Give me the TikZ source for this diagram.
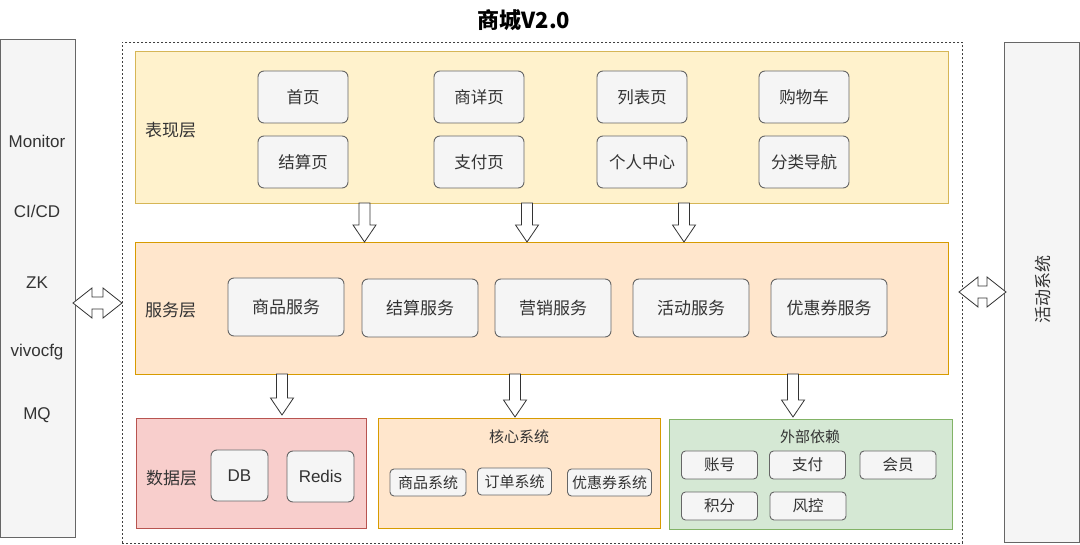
\documentclass[tikz,border=0pt]{standalone}
\usepackage{fontspec}
\setmainfont{Liberation Sans}
\newfontfamily\cjk{Noto Sans CJK SC}
\definecolor{gfill}{HTML}{F5F5F5}
\definecolor{gline}{HTML}{666666}
\definecolor{yfill}{HTML}{FFF2CC}
\definecolor{yline}{HTML}{D6B656}
\definecolor{ofill}{HTML}{FFE6CC}
\definecolor{oline}{HTML}{D79B00}
\definecolor{rfill}{HTML}{F8CECC}
\definecolor{rline}{HTML}{B85450}
\definecolor{gnfill}{HTML}{D5E8D4}
\definecolor{gnline}{HTML}{82B366}
\definecolor{txt}{HTML}{333333}
\newcommand\fs[1]{\fontsize{#1}{#1}\selectfont}
\newcommand\blockdown[3]{%
  \draw[blockarrow] (#1-5.5,#2) -- (#1+5.5,#2) -- (#1+5.5,#3-17) -- (#1+11.5,#3-17) -- (#1,#3) -- (#1-11.5,#3-17) -- (#1-5.5,#3-17) -- cycle;}
\newcommand\blockboth[3]{% xleft, xright, ycenter
  \draw[blockarrow] (#1,#3) -- (#1+19,#3-15) -- (#1+19,#3-6) -- (#2-19,#3-6) -- (#2-19,#3-15) -- (#2,#3) -- (#2-19,#3+15) -- (#2-19,#3+6) -- (#1+19,#3+6) -- (#1+19,#3+15) -- cycle;}
\begin{document}
\begin{tikzpicture}[x=1pt,y=-1pt,
  layer/.style={draw, line width=0.9pt, anchor=north west, inner sep=0pt},
  panel/.style={draw=gline, fill=gfill, line width=0.9pt, anchor=north west, inner sep=0pt, minimum width=75, minimum height=500},
  gbox/.style={draw=gline, fill=gfill, line width=0.9pt, rounded corners=6pt, text=txt, inner sep=0pt},
  pagebox/.style={gbox, minimum width=90, minimum height=52, font=\cjk\fs{16.5}},
  svcbox/.style={gbox, minimum width=116, minimum height=58, font=\cjk\fs{17}},
  sysbox/.style={gbox, rounded corners=4pt, minimum height=27, font=\cjk\fs{15}},
  extbox/.style={gbox, rounded corners=4pt, minimum width=76, minimum height=28, font=\cjk\fs{15.5}},
  lbl/.style={anchor=west, text=txt, font=\cjk\fs{17}, inner sep=0pt},
  sidetxt/.style={text=txt, font=\fs{17}, inner sep=0pt},
  blockarrow/.style={draw=black!80, fill=white, line width=0.8pt, line join=miter}
]
\useasboundingbox (0,0) rectangle (1080,545);

% title
\node[font=\cjk\bfseries\fs{22}] (title) at (524,20) {商城V2.0};

% outer dashed frame
\node[draw=black!75, dash pattern=on 2pt off 2pt, line width=0.8pt, anchor=north west, inner sep=0pt, minimum width=840, minimum height=501] (frame) at (122,42) {};

% side panels
\node[panel, minimum height=498] (left) at (0,39) {};
\node[sidetxt] (mon) at (37,141) {Monitor};
\node[sidetxt] (cicd) at (37,211) {CI/CD};
\node[sidetxt] (zk) at (37,283) {ZK};
\node[sidetxt] (vivo) at (37,352) {vivocfg};
\node[sidetxt] (mq) at (37,415) {MQ};

\node[panel] (right) at (1004,42) {};
\node[text=txt, font=\cjk\fs{17}, rotate=90] (act) at (1043,290) {活动系统};

% layers
\node[layer, draw=yline, fill=yfill, minimum width=813, minimum height=152] (top) at (135,51) {};
\node[layer, draw=oline, fill=ofill, minimum width=813, minimum height=132] (mid) at (135,242) {};
\node[layer, draw=rline, fill=rfill, minimum width=230, minimum height=110] (data) at (136,418) {};
\node[layer, draw=oline, fill=ofill, minimum width=282, minimum height=110] (core) at (378,418) {};
\node[layer, draw=gnline, fill=gnfill, minimum width=283, minimum height=110] (ext) at (669,419) {};

% presentation layer
\node[lbl] (toplbl) at (145,130) {表现层};
\node[pagebox] (p1) at (303,97) {首页};
\node[pagebox] (p2) at (479,97) {商详页};
\node[pagebox] (p3) at (642,97) {列表页};
\node[pagebox] (p4) at (804,97) {购物车};
\node[pagebox] (p5) at (303,162) {结算页};
\node[pagebox] (p6) at (479,162) {支付页};
\node[pagebox] (p7) at (642,162) {个人中心};
\node[pagebox] (p8) at (804,162) {分类导航};

% service layer
\node[lbl] (midlbl) at (145,310) {服务层};
\node[svcbox] (s1) at (286,307) {商品服务};
\node[svcbox] (s2) at (420,308) {结算服务};
\node[svcbox] (s3) at (553,308) {营销服务};
\node[svcbox] (s4) at (691,308) {活动服务};
\node[svcbox] (s5) at (829,308) {优惠券服务};

% data layer
\node[lbl] (datalbl) at (146,478) {数据层};
\node[gbox, minimum width=57, minimum height=51, font=\fs{17}] (db) at (239.5,475.5) {DB};
\node[gbox, minimum width=67, minimum height=51, font=\fs{17}] (redis) at (320.5,476.5) {Redis};

% core systems
\node[text=txt, font=\cjk\fs{15}] (corelbl) at (519,437) {核心系统};
\node[sysbox, minimum width=76] (c1) at (428,482.5) {商品系统};
\node[sysbox, minimum width=74] (c2) at (514.5,481.5) {订单系统};
\node[sysbox, minimum width=84] (c3) at (609.5,482.5) {优惠券系统};

% external dependencies
\node[text=txt, font=\cjk\fs{15}] (extlbl) at (810,437) {外部依赖};
\node[extbox] (e1) at (719.5,465) {账号};
\node[extbox] (e2) at (807.5,465) {支付};
\node[extbox] (e3) at (898,465) {会员};
\node[extbox] (e4) at (719.5,506) {积分};
\node[extbox] (e5) at (808,506) {风控};

% block arrows between layers
\blockdown{364.5}{203}{242}
\blockdown{527}{203}{242}
\blockdown{684}{203}{242}
\blockdown{282}{374}{415}
\blockdown{515}{374}{417}
\blockdown{793}{374}{417}

% double arrows to side panels
\blockboth{73}{122}{303}
\blockboth{959}{1006}{292}
\end{tikzpicture}
\end{document}
